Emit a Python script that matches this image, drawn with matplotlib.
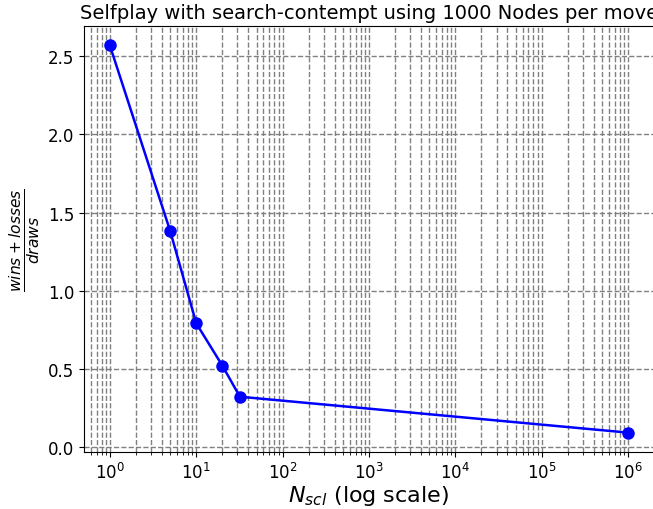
import matplotlib
matplotlib.use("Agg")
import matplotlib.pyplot as plt

n_scl = [1, 5, 10, 20, 32, 1000000]
ratio = [2.57, 1.38, 0.79, 0.52, 0.32, 0.09]

fig = plt.figure(figsize=(6.53, 5.10), dpi=100)
ax = fig.add_axes([0.1286, 0.1118, 0.873, 0.835])
ax.plot(n_scl, ratio, marker='o', color='blue', markersize=8, linewidth=1.8)
ax.set_xscale('log')
ax.grid(True, which='both', linestyle='--', color='gray', linewidth=1)
ax.set_title('Selfplay with search-contempt using 1000 Nodes per move', fontsize=14, pad=6)
ax.set_xlabel(r'$N_{scl}$ (log scale)', fontsize=16, labelpad=1)
ax.set_ylabel(r'$\frac{wins + losses}{draws}$', fontsize=16)
ax.tick_params(labelsize=12)
fig.savefig('out.png', dpi=100)
